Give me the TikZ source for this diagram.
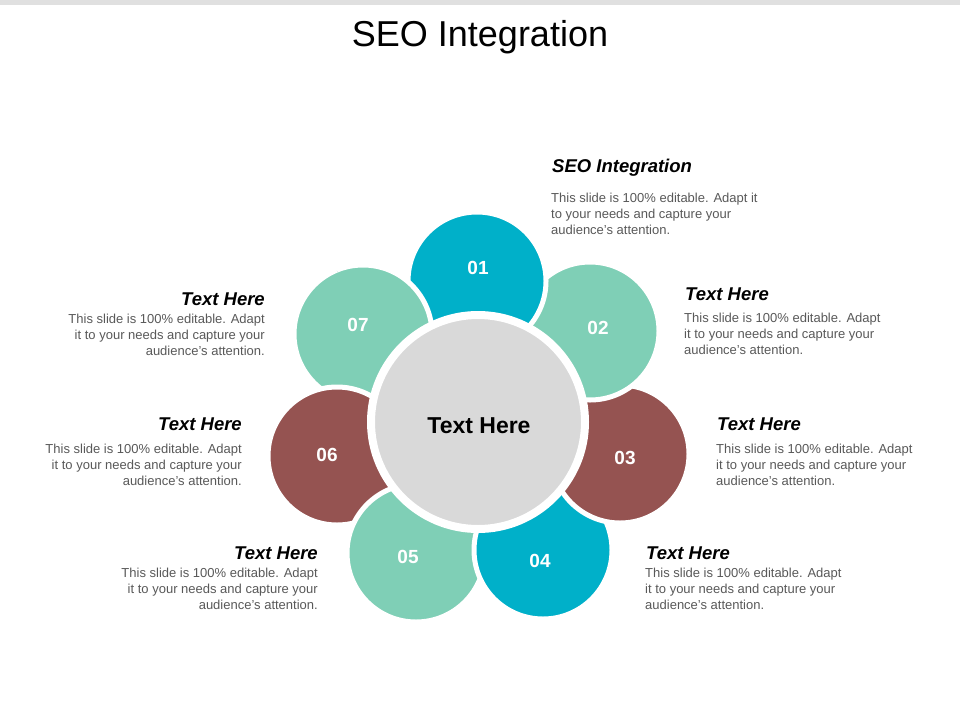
\documentclass[tikz,border=0pt]{standalone}
\usepackage{fontspec}
\setmainfont{Liberation Sans}
\definecolor{teal}{HTML}{00B0C9}
\definecolor{mint}{HTML}{7FCFB6}
\definecolor{brown}{HTML}{955351}
\definecolor{cgray}{HTML}{D9D9D9}
\definecolor{body}{HTML}{595959}
\begin{document}
\begin{tikzpicture}[x=1pt,y=-1pt,
  petal/.style={draw=white,line width=5pt},
  num/.style={text=white,font=\fontsize{19}{21}\selectfont\bfseries},
  head/.style={font=\fontsize{18.5}{20}\selectfont\bfseries\itshape,inner sep=0pt},
  bodyl/.style={font=\fontsize{13}{16}\selectfont,text=body,align=left,inner sep=0pt,anchor=north west},
  bodyr/.style={font=\fontsize{13}{16}\selectfont,text=body,align=right,inner sep=0pt,anchor=north east}]
\useasboundingbox (0,0) rectangle (960,720);
\fill[white] (0,0) rectangle (960,720);
\fill[black!12] (0,0) rectangle (960,5);
\node (title) at (480,37) {\fontsize{36}{40}\selectfont SEO Integration};
% petals
\def\R{69}
\fill[mint,petal] (363,334) circle (\R);
\fill[brown,petal] (337,456) circle (\R);
\fill[mint,petal] (416,553) circle (\R);
\fill[teal,petal] (543,550) circle (\R);
\fill[brown,petal] (620,454) circle (\R);
\fill[mint,petal] (590,331) circle (\R);
\fill[teal,petal] (477,281) circle (\R);
\begin{scope}
\clip (300,200) -- (470,200) -- (470,390) -- (400,390) -- cycle;
\fill[mint,petal] (363,334) circle (\R);
\end{scope}
\fill[cgray,draw=white,line width=8pt] (478,422) circle (107);
\node (center) at (479,426) {\fontsize{23}{26}\selectfont\bfseries Text Here};
\node[num] (n1) at (478,268) {01};
\node[num] (n2) at (598,328) {02};
\node[num] (n3) at (625,458) {03};
\node[num] (n4) at (540,561) {04};
\node[num] (n5) at (408,557) {05};
\node[num] (n6) at (327,455) {06};
\node[num] (n7) at (358,325) {07};
% texts right
\node[head,anchor=west] (h1) at (552,168) {SEO Integration};
\node[bodyl] (b1) at (551,193) {This slide is 100\% editable. Adapt it\\to your needs and capture your\\audience's attention.};
\node[head,anchor=west] (h2) at (685,294) {Text Here};
\node[bodyl] (b2) at (684,313) {This slide is 100\% editable. Adapt\\it to your needs and capture your\\audience's attention.};
\node[head,anchor=west] (h3) at (717,424) {Text Here};
\node[bodyl] (b3) at (716,444) {This slide is 100\% editable. Adapt\\it to your needs and capture your\\audience's attention.};
\node[head,anchor=west] (h4) at (646,553) {Text Here};
\node[bodyl] (b4) at (645,568) {This slide is 100\% editable. Adapt\\it to your needs and capture your\\audience's attention.};
% texts left
\node[head,anchor=east] (h7) at (265,299) {Text Here};
\node[bodyr] (b7) at (265,314) {This slide is 100\% editable. Adapt\\it to your needs and capture your\\audience's attention.};
\node[head,anchor=east] (h6) at (242,424) {Text Here};
\node[bodyr] (b6) at (242,444) {This slide is 100\% editable. Adapt\\it to your needs and capture your\\audience's attention.};
\node[head,anchor=east] (h5) at (318,553) {Text Here};
\node[bodyr] (b5) at (318,568) {This slide is 100\% editable. Adapt\\it to your needs and capture your\\audience's attention.};
\end{tikzpicture}
\end{document}
